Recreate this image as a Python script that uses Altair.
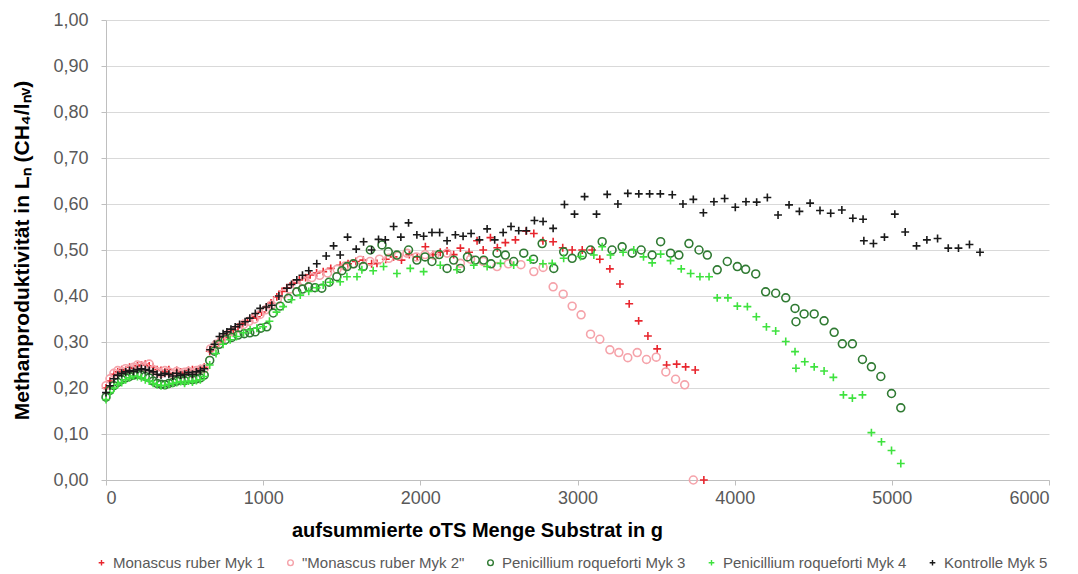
import altair as alt
import pandas as pd

S1 = "Monascus ruber Myk 1"
S2 = '"Monascus ruber Myk 2"'
S3 = "Penicillium roqueforti Myk 3"
S4 = "Penicillium roqueforti Myk 4"
S5 = "Kontrolle Myk 5"
series_names = [S1, S2, S3, S4, S5]
series_colors = ["#e8262e", "#f5a3aa", "#2f7a32", "#3ee23e", "#1a1a1a"]
PLUS = "M-1,0H1M0,-1V1"
series_shapes = [PLUS, "circle", "circle", PLUS, PLUS]

early_x = [0, 25, 50, 75, 100, 125, 150, 175, 200, 225, 250, 275, 300, 325, 350, 375,
           400, 425, 450, 475, 500, 525, 550, 575, 600, 625]

m1_x = early_x + [660, 690, 720, 750, 780, 810, 840, 870, 900, 930, 960, 990, 1020, 1050, 1087,
                  1120, 1150, 1191, 1230, 1270, 1299, 1340, 1382, 1430, 1490, 1540, 1590, 1637,
                  1690, 1724, 1780, 1830, 1880, 1930, 1980, 2032, 2080, 2127, 2170, 2212, 2255,
                  2310, 2361, 2400, 2446, 2490, 2541, 2605, 2673, 2722, 2780, 2845, 2906, 2966,
                  3030, 3093, 3142, 3206, 3270, 3329, 3389, 3448, 3507, 3567, 3631, 3688, 3749, 3804]
m1_y = [0.20, 0.215, 0.23, 0.235, 0.24, 0.238, 0.245, 0.243, 0.248, 0.25, 0.252, 0.248, 0.245,
        0.24, 0.238, 0.235, 0.24, 0.232, 0.238, 0.235, 0.232, 0.238, 0.24, 0.236, 0.242, 0.245,
        0.28, 0.29, 0.30, 0.31, 0.318, 0.326, 0.333, 0.34, 0.345, 0.352, 0.355, 0.365, 0.375,
        0.385, 0.398, 0.41, 0.418, 0.428, 0.435, 0.44, 0.446, 0.45, 0.453, 0.46, 0.467, 0.47,
        0.475, 0.478, 0.47, 0.471, 0.48, 0.485, 0.478, 0.49, 0.485, 0.507, 0.49, 0.495, 0.498,
        0.49, 0.504, 0.495, 0.52, 0.50, 0.527, 0.505, 0.516, 0.522, 0.541, 0.536, 0.52, 0.518,
        0.505, 0.50, 0.50, 0.50, 0.48, 0.459, 0.426, 0.383, 0.346, 0.313, 0.285, 0.25, 0.252,
        0.246, 0.239, 0.0]

m2_x = early_x + [665, 700, 735, 770, 805, 840, 875, 910, 945, 980, 1015, 1050, 1090, 1130, 1170,
                  1210, 1260, 1310, 1360, 1410, 1470, 1520, 1570, 1618, 1680, 1740, 1800, 1860,
                  1915, 1975, 2030, 2090, 2170, 2255, 2320, 2400, 2488, 2560, 2640, 2722, 2781,
                  2845, 2909, 2966, 3023, 3083, 3142, 3206, 3263, 3320, 3380, 3439, 3501, 3562,
                  3624, 3682, 3737]
m2_y = [0.205, 0.22, 0.232, 0.238, 0.236, 0.242, 0.24, 0.245, 0.25, 0.248, 0.245, 0.252, 0.24,
        0.236, 0.232, 0.238, 0.235, 0.23, 0.236, 0.23, 0.234, 0.236, 0.232, 0.238, 0.24, 0.242,
        0.285, 0.295, 0.305, 0.315, 0.322, 0.33, 0.338, 0.345, 0.35, 0.36, 0.37, 0.38, 0.392,
        0.405, 0.415, 0.425, 0.432, 0.44, 0.445, 0.45, 0.458, 0.465, 0.47, 0.478, 0.475, 0.48,
        0.482, 0.487, 0.493, 0.485, 0.49, 0.488, 0.493, 0.471, 0.48, 0.475, 0.464, 0.47, 0.468,
        0.453, 0.462, 0.42, 0.404, 0.378, 0.359, 0.317, 0.306, 0.283, 0.277, 0.266, 0.277,
        0.262, 0.267, 0.235, 0.219, 0.207, 0.0]

m3_x = early_x + [660, 690, 720, 760, 800, 840, 880, 915, 949, 985, 1023, 1064, 1108, 1160, 1214,
                  1250, 1289, 1330, 1373, 1420, 1469, 1501, 1533, 1575, 1637, 1682, 1756, 1796,
                  1851, 1925, 1978, 2030, 2074, 2120, 2170, 2212, 2255, 2300, 2350, 2403, 2450,
                  2488, 2541, 2594, 2658, 2720, 2775, 2849, 2912, 2966, 3030, 3083, 3157, 3220,
                  3284, 3348, 3405, 3475, 3529, 3592, 3645, 3709, 3773, 3826, 3889, 3953, 4017,
                  4070, 4134, 4197, 4261, 4325, 4384, 4390, 4442, 4506, 4569, 4633, 4685, 4749,
                  4813, 4870, 4930, 4998, 5057]
m3_y = [0.18, 0.195, 0.205, 0.212, 0.218, 0.222, 0.225, 0.228, 0.23, 0.228, 0.225, 0.222, 0.215,
        0.21, 0.208, 0.207, 0.21, 0.212, 0.215, 0.218, 0.216, 0.22, 0.218, 0.22, 0.222, 0.228,
        0.26, 0.28, 0.295, 0.305, 0.31, 0.315, 0.318, 0.32, 0.322, 0.33, 0.333, 0.363, 0.378,
        0.395, 0.409, 0.415, 0.42, 0.418, 0.417, 0.43, 0.442, 0.455, 0.464, 0.47, 0.464, 0.50,
        0.511, 0.496, 0.489, 0.50, 0.478, 0.485, 0.475, 0.49, 0.46, 0.478, 0.46, 0.485, 0.478,
        0.478, 0.47, 0.493, 0.489, 0.475, 0.493, 0.48, 0.514, 0.46, 0.496, 0.482, 0.489, 0.50,
        0.518, 0.50, 0.507, 0.493, 0.50, 0.489, 0.518, 0.493, 0.489, 0.514, 0.50, 0.489, 0.457,
        0.475, 0.464, 0.458, 0.448, 0.409, 0.406, 0.396, 0.373, 0.344, 0.361, 0.361, 0.346,
        0.321, 0.296, 0.296, 0.262, 0.246, 0.225, 0.188, 0.157]

m4_x = early_x + [660, 700, 745, 790, 830, 875, 917, 960, 1000, 1040, 1085, 1127, 1180, 1236,
                  1290, 1340, 1382, 1427, 1490, 1533, 1597, 1628, 1700, 1766, 1851, 1936, 2021,
                  2127, 2233, 2340, 2425, 2510, 2594, 2701, 2780, 2839, 2912, 3019, 3104, 3157,
                  3210, 3290, 3358, 3420, 3475, 3529, 3592, 3660, 3720, 3779, 3837, 3889, 3957,
                  4017, 4081, 4138, 4202, 4261, 4325, 4384, 4390, 4446, 4506, 4569, 4628, 4692,
                  4749, 4813, 4870, 4934, 4998, 5057]
m4_y = [0.175, 0.19, 0.20, 0.208, 0.212, 0.218, 0.222, 0.226, 0.225, 0.222, 0.218, 0.215, 0.21,
        0.207, 0.205, 0.206, 0.208, 0.21, 0.212, 0.214, 0.21, 0.215, 0.213, 0.216, 0.218, 0.225,
        0.25, 0.275, 0.295, 0.305, 0.312, 0.32, 0.326, 0.33, 0.333, 0.345, 0.365, 0.377, 0.392,
        0.402, 0.41, 0.418, 0.424, 0.43, 0.431, 0.442, 0.442, 0.457, 0.455, 0.464, 0.449, 0.46,
        0.453, 0.467, 0.457, 0.467, 0.464, 0.471, 0.467, 0.478, 0.47, 0.471, 0.482, 0.486,
        0.489, 0.507, 0.489, 0.495, 0.50, 0.485, 0.472, 0.491, 0.477, 0.459, 0.449, 0.442,
        0.442, 0.396, 0.396, 0.378, 0.377, 0.355, 0.333, 0.324, 0.301, 0.279, 0.243, 0.257,
        0.246, 0.237, 0.223, 0.185, 0.178, 0.185, 0.103, 0.083, 0.064, 0.036]

m5_x = early_x + [662, 690, 722, 745, 769, 795, 822, 850, 885, 915, 950, 981, 1020, 1055, 1100,
                  1151, 1180, 1214, 1250, 1290, 1341, 1401, 1448, 1490, 1537, 1592, 1639, 1690,
                  1734, 1777, 1830, 1876, 1925, 1978, 2021, 2074, 2123, 2170, 2223, 2272, 2323,
                  2376, 2425, 2473, 2527, 2577, 2626, 2675, 2726, 2781, 2845, 2917, 2981, 3045,
                  3121, 3189, 3257, 3320, 3390, 3459, 3527, 3603, 3671, 3737, 3801, 3868, 3936,
                  4004, 4072, 4140, 4208, 4276, 4346, 4412, 4480, 4543, 4611, 4682, 4752, 4817,
                  4822, 4883, 4953, 5019, 5085, 5157, 5223, 5291, 5359, 5424, 5494, 5561]
m5_y = [0.19, 0.205, 0.22, 0.228, 0.232, 0.235, 0.238, 0.236, 0.24, 0.242, 0.24, 0.238, 0.235,
        0.23, 0.228, 0.232, 0.23, 0.226, 0.232, 0.228, 0.23, 0.234, 0.23, 0.235, 0.238, 0.242,
        0.283, 0.295, 0.312, 0.318, 0.322, 0.328, 0.333, 0.338, 0.344, 0.352, 0.362, 0.373,
        0.376, 0.38, 0.40, 0.417, 0.425, 0.435, 0.445, 0.455, 0.47, 0.487, 0.509, 0.489, 0.528,
        0.502, 0.518, 0.50, 0.523, 0.522, 0.551, 0.528, 0.559, 0.533, 0.53, 0.538, 0.538, 0.52,
        0.533, 0.53, 0.536, 0.522, 0.546, 0.522, 0.538, 0.551, 0.542, 0.542, 0.564, 0.562,
        0.547, 0.599, 0.578, 0.616, 0.578, 0.621, 0.60, 0.623, 0.622, 0.622, 0.622, 0.62, 0.60,
        0.61, 0.581, 0.605, 0.612, 0.593, 0.605, 0.604, 0.614, 0.576, 0.598, 0.584, 0.602,
        0.586, 0.58, 0.587, 0.569, 0.567, 0.52, 0.514, 0.528, 0.578, 0.539, 0.509, 0.522,
        0.525, 0.504, 0.504, 0.512, 0.495]

frames = []
for name, xs, ys in [(S1, m1_x, m1_y), (S2, m2_x, m2_y), (S3, m3_x, m3_y),
                     (S4, m4_x, m4_y), (S5, m5_x, m5_y)]:
    frames.append(pd.DataFrame({"x": xs, "y": ys, "serie": name}))
df = pd.concat(frames, ignore_index=True)
df["order"] = range(len(df))

y_ticks = [round(i * 0.1, 1) for i in range(11)]
x_ticks = [0, 1000, 2000, 3000, 4000, 5000, 6000]

FONT = "Liberation Sans"

chart = alt.Chart(df).mark_point(filled=False, strokeWidth=1.6, size=62, opacity=1).encode(
    x=alt.X("x:Q", scale=alt.Scale(domain=[0, 6000], nice=False),
            axis=alt.Axis(values=x_ticks, format="d", grid=False, title="aufsummierte oTS Menge Substrat in g",
                          titleX=371, titleY=50, titleBaseline="middle")),
    y=alt.Y("y:Q", scale=alt.Scale(domain=[0, 1], nice=False),
            axis=alt.Axis(values=y_ticks, grid=True,
                          labelExpr="replace(format(datum.value, '.2f'), '.', ',')",
                          title="Methanproduktivität in Lₙ (CH₄/lₙᵥ)",
                          titleX=-84, titleY=230, titleBaseline="middle", titleFontSize=21)),
    color=alt.Color("serie:N", scale=alt.Scale(domain=series_names, range=series_colors),
                    legend=alt.Legend(title=None, orient="none", direction="horizontal",
                                      legendX=-12, legendY=535, columnPadding=18, labelLimit=0,
                                      symbolSize=32, symbolStrokeWidth=1.4, labelFontSize=15,
                                      labelColor="#595959", labelFont=FONT, labelOffset=4)),
    shape=alt.Shape("serie:N", scale=alt.Scale(domain=series_names, range=series_shapes), legend=None),
    order=alt.Order("order:Q"),
).properties(
    width=943, height=460,
    autosize=alt.AutoSizeParams(type="none"),
    padding={"left": 98, "top": 12, "right": 21, "bottom": 94},
).configure_view(stroke=None).configure_axis(
    labelFont=FONT, labelFontSize=18, labelColor="#595959",
    titleFont=FONT, titleFontSize=20, titleFontWeight="bold", titleColor="#000000",
    domainColor="#bfbfbf", tickColor="#bfbfbf", tickSize=5, gridColor="#d9d9d9",
).configure_axisY(labelPadding=13).configure_axisX(labelPadding=4)

chart.save("out.html", embed_options={"renderer": "svg", "actions": False})
